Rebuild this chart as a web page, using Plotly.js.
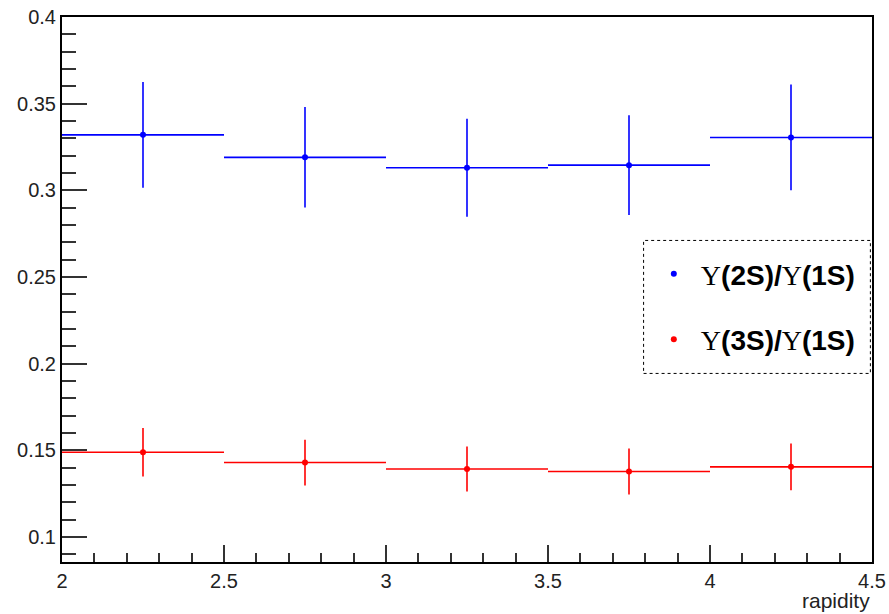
<!DOCTYPE html>
<html>
<head>
<meta charset="utf-8">
<script src="https://cdn.plot.ly/plotly-3.0.1.min.js"></script>
<style>html,body{margin:0;padding:0;background:#fff;}#chart{width:889px;height:614px;}</style>
</head>
<body>
<div id="chart"></div>
<script>
// Bin centres in rapidity and half-widths
const rapidity = [2.25, 2.75, 3.25, 3.75, 4.25];
const binHalfWidth = [0.25, 0.25, 0.25, 0.25, 0.25];

// Υ(2S)/Υ(1S)
const ratio2S = [0.332, 0.319, 0.313, 0.3145, 0.3305];
const err2S   = [0.0305, 0.029, 0.0283, 0.0288, 0.0305];

// Υ(3S)/Υ(1S)
const ratio3S = [0.1488, 0.1429, 0.1392, 0.1377, 0.1404];
const err3S   = [0.014, 0.0132, 0.013, 0.0133, 0.0135];

const xTicks = [2, 2.5, 3, 3.5, 4, 4.5];
const xTickText = ['2', '2.5', '3', '3.5', '4', '4.5'];
const yTicks = [0.1, 0.15, 0.2, 0.25, 0.3, 0.35, 0.4];
const yTickText = ['0.1', '0.15', '0.2', '0.25', '0.3', '0.35', '0.4'];

const ups = '<span style="font-family:\'Liberation Serif\';font-weight:normal">Υ</span>';
const name2S = ups + '<b>(2S)/</b>' + ups + '<b>(1S)</b>';
const name3S = ups + '<b>(3S)/</b>' + ups + '<b>(1S)</b>';

function series(y, e, color, name, grp) {
  return {
    type: 'scatter', mode: 'markers',
    x: rapidity, y: y, name: name, legendgroup: grp,
    marker: {color: color, size: 6},
    error_y: {type: 'data', array: e, visible: true, color: color, thickness: 1.6, width: 0},
    error_x: {type: 'data', array: binHalfWidth, visible: true, color: color, thickness: 1.6, width: 0},
    cliponaxis: false
  };
}

const data = [
  series(ratio2S, err2S, 'rgb(0,0,255)', name2S, 'a'),
  series(ratio3S, err3S, 'rgb(255,0,0)', name3S, 'b')
];

const axisCommon = {
  showgrid: false, zeroline: false, showline: true, mirror: true,
  linecolor: '#000', linewidth: 2, ticks: 'inside', tickcolor: '#333',
  tickwidth: 2, tickfont: {family: 'Liberation Sans, Arial, sans-serif', size: 20, color: '#222'}
};

const layout = {
  width: 889, height: 614,
  margin: {l: 62, r: 17, t: 17, b: 52},
  paper_bgcolor: '#fff', plot_bgcolor: '#fff',
  showlegend: true,
  legend: {
    x: 0.722, y: 0.574, xanchor: 'left', yanchor: 'top',
    bgcolor: 'rgba(0,0,0,0)', borderwidth: 0,
    font: {family: 'Liberation Sans, Arial, sans-serif', size: 28, color: '#000', weight: 'bold'},
    itemwidth: 44, tracegroupgap: 26
  },
  xaxis: Object.assign({}, axisCommon, {
    range: [2, 4.5], tickvals: xTicks, ticktext: xTickText, ticklen: 17,
    minor: {dtick: 0.1, ticklen: 9, tickcolor: '#333', tickwidth: 2, ticks: 'inside', showgrid: false}
  }),
  yaxis: Object.assign({}, axisCommon, {
    range: [0.0855, 0.4], tickvals: yTicks, ticktext: yTickText, ticklen: 25,
    minor: {dtick: 0.01, tick0: 0, ticklen: 14, tickcolor: '#333', tickwidth: 2, ticks: 'inside', showgrid: false}
  }),
  shapes: [{
    type: 'rect', xref: 'paper', yref: 'paper',
    x0: 0.718, x1: 0.998, y0: 0.346, y1: 0.590,
    line: {color: '#000', width: 1, dash: 'dot'}, fillcolor: 'rgba(0,0,0,0)'
  }],
  annotations: [{
    text: 'rapidity', xref: 'paper', yref: 'paper', x: 1, y: 0, xanchor: 'right', yanchor: 'top',
    yshift: -25, xshift: 0, showarrow: false,
    font: {family: 'Liberation Sans, Arial, sans-serif', size: 21, color: '#222'}
  }]
};

Plotly.newPlot('chart', data, layout, {displayModeBar: false, staticPlot: true});
</script>
</body>
</html>
